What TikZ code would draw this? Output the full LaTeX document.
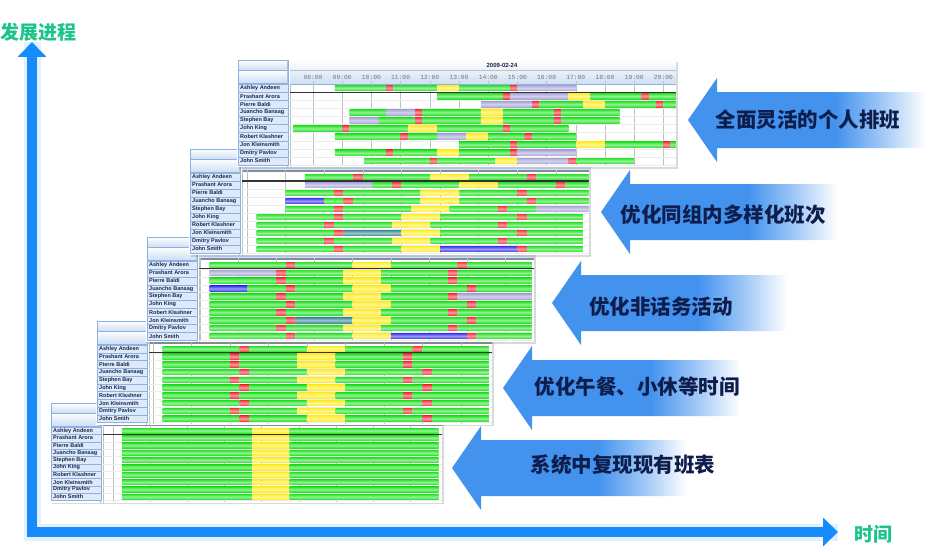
\documentclass[tikz,border=0pt]{standalone}
\usepackage{fontspec}
\newfontfamily\cjk{Noto Sans CJK SC}
\newfontfamily\namefont{Liberation Sans}
\newfontfamily\timefont{Liberation Mono}
\usepackage{xcolor}
\definecolor{namefill}{RGB}{222,234,250}
\definecolor{nameedge}{RGB}{140,178,228}
\definecolor{nameink}{RGB}{28,36,70}
\definecolor{hdrblue}{RGB}{206,222,244}
\definecolor{hdrbar}{RGB}{130,142,158}
\definecolor{barG}{RGB}{40,226,40}
\definecolor{barR}{RGB}{242,56,64}
\definecolor{barY}{RGB}{255,236,40}
\definecolor{barL}{RGB}{168,166,214}
\definecolor{barB}{RGB}{56,56,236}
\definecolor{barT}{RGB}{60,140,150}
\definecolor{stepblue}{RGB}{66,146,238}
\definecolor{stepink}{RGB}{14,30,76}
\definecolor{axisblue}{RGB}{22,140,250}
\definecolor{axisgreen}{RGB}{26,196,140}
\usepackage{tikz}
\usetikzlibrary{arrows.meta, shadows}
\pgfdeclarehorizontalshading{stepfade}{100bp}{color(0bp)=(stepblue); color(25bp)=(stepblue); color(56bp)=(stepblue); color(66bp)=(stepblue!50!white); color(75bp)=(white); color(100bp)=(white)}
\tikzset{
  namecell/.style={fill=namefill, draw=nameedge, line width=0.4pt},
  nametext/.style={anchor=west, inner sep=0pt, text=nameink, font=\namefont\bfseries\fontsize{5.5}{6}\selectfont},
  hdrcell/.style={top color=white, bottom color=hdrblue, draw=nameedge, line width=0.4pt},
  gridline/.style={draw=black!25, line width=0.4pt},
  rowline/.style={draw=black!8, line width=0.3pt},
  bar/.style={top color=bar#1, bottom color=bar#1, middle color=bar#1!50!white},
  timetext/.style={inner sep=0pt, text=black!55, font=\timefont\fontsize{6.3}{7}\selectfont},
  datetext/.style={inner sep=0pt, text=nameink, font=\namefont\bfseries\fontsize{6}{7}\selectfont},
  steplabel/.style={inner sep=0pt, text=stepink, font=\cjk\bfseries\fontsize{20.5}{21}\selectfont},
  axislabel/.style={inner sep=0pt, text=axisgreen, font=\cjk\bfseries\fontsize{19}{19}\selectfont},
}
% #1 id, #2 left, #3 top, #4 right, #5 row pitch, #6 first grid x, #7 grid step, #8 last grid, #9 rows
\newcommand{\schedpanel}[9]{%
  \pgfmathsetmacro{\panD}{#2+52}
  \pgfmathsetmacro{\panY}{#3+24}
  \pgfmathsetmacro{\panB}{#3+26+10*#5}
  \fill[white, drop shadow={shadow xshift=1.5pt, shadow yshift=-1.5pt, opacity=0.3}] (#2-1,#3) rectangle (#4,\panB);
  \path[hdrcell] (#2,#3) rectangle (#2+50,#3+10);
  \path[hdrcell] (#2,#3+10) rectangle (#2+50,#3+23);
  \path[top color=white, bottom color=hdrblue] (\panD,#3) rectangle (#4,#3+21);
  \fill[hdrbar] (\panD,#3+21) rectangle (#4,#3+23);
  \draw[gridline] (\panD-3,#3) -- (\panD-3,\panB);
  \draw[gridline] (\panD,#3+21) -- (\panD,\panB);
  \foreach \k in {0,...,#8}
    \draw[gridline] (#6+\k*#7,#3+21) -- (#6+\k*#7,\panB-1);
  \foreach \nm [count=\ri from 0] in {Ashley Andeen, Prashant Arora, Pierre Baldi, Juancho Banaag, Stephen Bay, John King, Robert Klashner, Jon Kleinsmith, Dmitry Pavlov, John Smith} {
    \draw[namecell] (#2,\panY+\ri*#5) rectangle (#2+50,\panY+\ri*#5+#5);
    \node[nametext] (#1-n\ri) at (#2+2,\panY+\ri*#5+#5/2) {\nm};
    \draw[rowline] (\panD,\panY+\ri*#5+#5) -- (#4,\panY+\ri*#5+#5);
  }
  \foreach \segs [count=\ri from 0] in {#9} {
    \foreach \ua/\ub/\kind in \segs
      \path[bar=\kind] (#6+\ua*#7,\panY+\ri*#5+0.14*#5) rectangle (#6+\ub*#7,\panY+\ri*#5+0.86*#5);
  }
  \draw[line width=1.1pt, black!80] (\panD,\panY+#5) -- (#4,\panY+#5);
}

\begin{document}
\begin{tikzpicture}[x=1pt, y=-1pt, >=Stealth]
  \useasboundingbox (0,0) rectangle (944,551);
  % axes
  \coordinate (origin) at (32,532);
  \coordinate (ytip) at (32,42);
  \coordinate (xtip) at (838,532);
  \draw[line width=17pt, axisblue, opacity=0.12] (ytip) -- (origin) -- (xtip);
  \draw[line width=10pt, axisblue, {Triangle[width=28pt,length=15pt]}-{Triangle[width=28pt,length=15pt]}] (ytip) -- (origin) -- (xtip);
  \node[axislabel] (ylab) at (38,32) {发展进程};
  \node[axislabel] (xlab) at (873,534) {时间};

  % panels, lowest first
  \schedpanel{p1}{51}{403}{442}{7.35}{113}{37.17}{8}{
    {0.24/3.75/G, 3.75/4.75/Y, 4.75/8.76/G}, {0.24/3.75/G, 3.75/4.75/Y, 4.75/8.76/G},
    {0.24/3.75/G, 3.75/4.75/Y, 4.75/8.76/G}, {0.24/3.75/G, 3.75/4.75/Y, 4.75/8.76/G},
    {0.24/3.75/G, 3.75/4.75/Y, 4.75/8.76/G}, {0.24/3.75/G, 3.75/4.75/Y, 4.75/8.76/G},
    {0.24/3.75/G, 3.75/4.75/Y, 4.75/8.76/G}, {0.24/3.75/G, 3.75/4.75/Y, 4.75/8.76/G},
    {0.24/3.75/G, 3.75/4.75/Y, 4.75/8.76/G}, {0.24/3.75/G, 3.75/4.75/Y, 4.75/8.76/G}}
  \schedpanel{p2}{97}{321}{492}{7.75}{153}{38.47}{8}{
    {0.25/2.25/G, 2.25/2.5/R, 2.5/4/G, 4/5/Y, 5/6.75/G, 6.75/7/R, 7/8.73/G},
    {0.25/2/G, 2/2.25/R, 2.25/3.75/G, 3.75/4.75/Y, 4.75/6.5/G, 6.5/6.75/R, 6.75/8.73/G},
    {0.25/2/G, 2/2.25/R, 2.25/3.75/G, 3.75/4.75/Y, 4.75/6.5/G, 6.5/6.75/R, 6.75/8.73/G},
    {0.25/2.25/G, 2.25/2.5/R, 2.5/4/G, 4/5/Y, 5/7/G, 7/7.25/R, 7.25/8.73/G},
    {0.25/2/G, 2/2.25/R, 2.25/3.75/G, 3.75/4.75/Y, 4.75/6.5/G, 6.5/6.75/R, 6.75/8.73/G},
    {0.25/2.25/G, 2.25/2.5/R, 2.5/4/G, 4/5/Y, 5/7/G, 7/7.25/R, 7.25/8.73/G},
    {0.25/2/G, 2/2.25/R, 2.25/3.75/G, 3.75/4.75/Y, 4.75/6.5/G, 6.5/6.75/R, 6.75/8.73/G},
    {0.25/2.25/G, 2.25/2.5/R, 2.5/4/G, 4/5/Y, 5/7/G, 7/7.25/R, 7.25/8.73/G},
    {0.25/2/G, 2/2.25/R, 2.25/3.75/G, 3.75/4.75/Y, 4.75/6.5/G, 6.5/6.75/R, 6.75/8.73/G},
    {0.25/2.25/G, 2.25/2.5/R, 2.5/4/G, 4/5/Y, 5/7/G, 7/7.25/R, 7.25/8.73/G}}
  \schedpanel{p3}{147}{237}{534}{7.9}{200}{38.15}{8}{
    {0.25/2.25/G, 2.25/2.5/R, 2.5/4/G, 4/5/Y, 5/6.75/G, 6.75/7/R, 7/8.7/G},
    {0.25/2/L, 2/2.25/R, 2.25/3.75/G, 3.75/4.75/Y, 4.75/6.5/G, 6.5/6.75/R, 6.75/8.7/G},
    {0.25/2/G, 2/2.25/R, 2.25/3.75/G, 3.75/4.75/Y, 4.75/6.5/G, 6.5/6.75/R, 6.75/8.7/G},
    {0.25/1.25/B, 1.25/2.25/G, 2.25/2.5/R, 2.5/4/G, 4/5/Y, 5/7/G, 7/7.25/R, 7.25/8.7/G},
    {0.25/2/G, 2/2.25/R, 2.25/3.75/G, 3.75/4.75/Y, 4.75/6.5/G, 6.5/6.75/R, 6.75/8.7/L},
    {0.25/2.25/G, 2.25/2.5/R, 2.5/4/G, 4/5/Y, 5/7/G, 7/7.25/R, 7.25/8.7/G},
    {0.25/2/G, 2/2.25/R, 2.25/3.75/G, 3.75/4.75/Y, 4.75/6.5/G, 6.5/6.75/R, 6.75/8.7/G},
    {0.25/2.25/G, 2.25/2.5/R, 2.5/4/T, 4/5/Y, 5/7/G, 7/7.25/R, 7.25/8.7/G},
    {0.25/2/G, 2/2.25/R, 2.25/3.75/G, 3.75/4.75/Y, 4.75/6.5/G, 6.5/6.75/R, 6.75/8.7/G},
    {0.25/2.25/G, 2.25/2.5/R, 2.5/4/G, 4/5/Y, 5/7/B, 7/7.25/R, 7.25/8.7/G}}
  \schedpanel{p4}{190}{149}{589}{8.0}{247}{38.6}{8}{
    {1.5/2.75/G, 2.75/3/R, 3/4.75/G, 4.75/5.75/Y, 5.75/7.25/G, 7.25/7.5/R, 7.5/8.85/G},
    {1.5/3.25/L, 3.25/3.75/G, 3.75/4/R, 4/5.5/G, 5.5/6.5/Y, 6.5/8/G, 8/8.25/R, 8.25/8.85/G},
    {1/2.25/G, 2.25/2.5/R, 2.5/4.5/G, 4.5/5.5/Y, 5.5/7/G, 7/7.25/R, 7.25/8.85/G},
    {1/2/B, 2/2.5/G, 2.5/2.75/R, 2.75/4.5/G, 4.5/5.5/Y, 5.5/7.25/G, 7.25/7.5/R, 7.5/8.85/G},
    {1/2.25/G, 2.25/2.5/R, 2.5/4.25/G, 4.25/5.25/Y, 5.25/6.5/G, 6.5/6.75/R, 6.75/7.5/G, 7.5/8.85/L},
    {0.25/2.25/G, 2.25/2.5/R, 2.5/4/G, 4/5/Y, 5/7/G, 7/7.25/R, 7.25/8.7/G},
    {0.25/2/G, 2/2.25/R, 2.25/3.75/G, 3.75/4.75/Y, 4.75/6.5/G, 6.5/6.75/R, 6.75/8.7/G},
    {0.25/2.25/G, 2.25/2.5/R, 2.5/4/T, 4/5/Y, 5/7/G, 7/7.25/R, 7.25/8.7/G},
    {0.25/2/G, 2/2.25/R, 2.25/3.75/G, 3.75/4.75/Y, 4.75/6.5/G, 6.5/6.75/R, 6.75/8.7/G},
    {0.25/2.25/G, 2.25/2.5/R, 2.5/4/G, 4/5/Y, 5/7/B, 7/7.25/R, 7.25/8.7/G}}
  \schedpanel{p5}{238}{60}{676}{8.1}{313}{29.2}{12}{
    {0.75/2.5/G, 2.5/2.75/R, 2.75/4.25/G, 4.25/5/Y, 5/6.75/G, 6.75/7/R, 7/9/L},
    {4.25/6.5/G, 6.5/6.75/R, 6.75/8.75/L, 8.75/9.5/Y, 9.5/11.25/G, 11.25/11.5/R, 11.5/12.43/G},
    {5.75/7.5/L, 7.5/7.75/R, 7.75/9.25/G, 9.25/10/Y, 10/11.75/G, 11.75/12/R, 12/12.43/G},
    {1.25/2.5/G, 2.5/3.5/L, 3.5/3.75/R, 3.75/5.75/G, 5.75/6.5/Y, 6.5/8.25/G, 8.25/8.5/R, 8.5/10.5/G},
    {1.25/2.25/L, 2.25/3.5/G, 3.5/3.75/R, 3.75/5.75/G, 5.75/6.5/Y, 6.5/8.25/G, 8.25/8.5/R, 8.5/10.5/G},
    {-0.68/1/G, 1/1.25/R, 1.25/3.25/G, 3.25/4.25/Y, 4.25/6.5/G, 6.5/6.75/R, 6.75/8.75/G},
    {0.75/3/G, 3/3.25/R, 3.25/4.25/G, 4.25/5.25/L, 5.25/6/Y, 6/7.25/G, 7.25/7.5/R, 7.5/9/G},
    {5/6.75/G, 6.75/7/R, 7/9/G, 9/10/Y, 10/12/G, 12/12.25/R, 12.25/12.43/G},
    {0.75/2.5/G, 2.5/2.75/R, 2.75/4.25/G, 4.25/5/Y, 5/6.75/G, 6.75/7/R, 7/9/L},
    {1.75/4/G, 4/4.25/R, 4.25/6.25/G, 6.25/7/Y, 7/8.75/L, 8.75/9/R, 9/11/G}}
  % time header of the top panel
  \path[top color=white, bottom color=hdrblue] (290,60) rectangle (676,84.5);
  \draw[gridline] (290,70) -- (676,70);
  \draw[nameedge] (290,84.5) -- (676,84.5);
  \node[datetext] (date) at (502,65) {2009-02-24};
  \foreach \k in {0,...,12} {
    \pgfmathtruncatemacro{\hh}{8+\k}
    \node[timetext] (t\k) at (313+\k*29.2,77) {\ifnum\hh<10 0\fi\hh:00};
    \draw[gridline] (313+\k*29.2,81) -- (313+\k*29.2,84.5);
  }

  % arrows
  \foreach \tx/\ty/\ex/\lx/\ly/\txt [count=\i] in {452/468/687/623/465/系统中复现现有班表, 503/388/740/637/387/优化午餐、小休等时间, 552/303/787/661/307/优化非话务活动, 601/212/837/723/215/优化同组内多样化班次, 688/120/925/808/120/全面灵活的个人排班} {
    \shade[shading=stepfade] (\tx,\ty) -- ++(29,-42) -- ++(0,14) -- (\ex,\ty-28) -- (\ex,\ty+28) -- (\tx+29,\ty+28) -- ++(0,14) -- cycle;
    \node[steplabel] (step\i) at (\lx,\ly) {\txt};
  }
\end{tikzpicture}
\end{document}
